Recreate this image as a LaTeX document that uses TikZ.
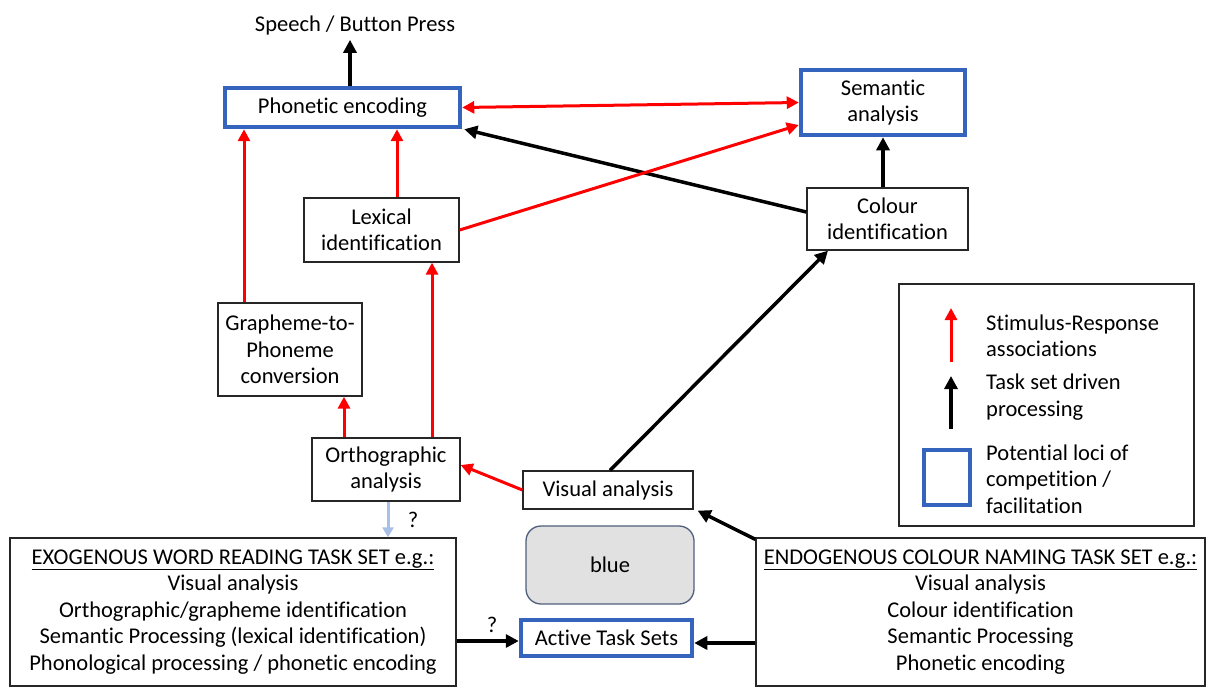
\documentclass[tikz,border=0pt]{standalone}
\usepackage{fontspec}
\setmainfont[Ligatures={NoCommon,NoContextual}]{Carlito}
\usetikzlibrary{arrows.meta,calc}
\definecolor{lociblue}{RGB}{52,100,190}
\definecolor{qblue}{RGB}{168,192,232}
\definecolor{grayfill}{RGB}{225,225,225}
\definecolor{grayedge}{RGB}{80,95,125}
\tikzset{
  box/.style={draw=black!85, line width=1.3pt, fill=white, align=center, inner sep=0pt, font=\fontsize{22.5}{26.5}\selectfont},
  locibox/.style={box, draw=lociblue, line width=4.5pt},
  redarr/.style={draw=red, line width=3pt, -{Triangle[length=12pt,width=12pt]}},
  blkarr/.style={draw=black, line width=3.5pt, -{Triangle[length=13pt,width=13pt]}},
  txt/.style={align=center, inner sep=0pt, font=\fontsize{22.5}{26.5}\selectfont},
}
\begin{document}
\begin{tikzpicture}[x=1pt,y=-1pt]
\useasboundingbox (0,0) rectangle (1215,698);
% nodes
\node[txt] (speech) at (355,26) {Speech / Button Press};
\node[locibox, minimum width=235pt, minimum height=39pt] (phon) at (342.5,107.5) {Phonetic encoding};
\node[locibox, minimum width=164pt, minimum height=65pt] (sem) at (883,102.5) {Semantic\\analysis};
\node[box, minimum width=161pt, minimum height=62pt] (col) at (887.5,219) {Colour\\identification};
\node[box, minimum width=155pt, minimum height=64pt] (lex) at (381.5,230) {Lexical\\identification};
\node[box, minimum width=144pt, minimum height=93pt] (g2p) at (290,349.5) {Grapheme-to-\\Phoneme\\conversion};
\node[box, minimum width=148pt, minimum height=63pt] (orth) at (386,469.5) {Orthographic\\analysis};
\node[box, minimum width=170pt, minimum height=38pt] (vis) at (608,490) {Visual analysis};
\node[box, draw=grayedge, fill=grayfill, rounded corners=15pt, minimum width=168pt, minimum height=78pt] (blue) at (610,565) {blue};
\node[locibox, minimum width=171pt, minimum height=36pt] (active) at (606.5,638) {Active Task Sets};
\node[box, minimum width=446pt, minimum height=148pt] (exo) at (233,612) {\underline{EXOGENOUS WORD READING TASK SET e.g.:}\\Visual analysis\\Orthographic/grapheme identification\\Semantic Processing (lexical identification)\\Phonological processing / phonetic encoding};
\node[box, minimum width=449pt, minimum height=148pt] (endo) at (980.5,612) {\underline{ENDOGENOUS COLOUR NAMING TASK SET e.g.:}\\Visual analysis\\Colour identification\\Semantic Processing\\Phonetic encoding};
% legend
\node[box, minimum width=295pt, minimum height=242pt] (legend) at (1046.5,405) {};
\coordinate (l1a) at (951,362); \coordinate (l1b) at (951,308);
\coordinate (l2a) at (951,429); \coordinate (l2b) at (951,376);
\draw[redarr] (l1a) -- (l1b);
\draw[blkarr] (l2a) -- (l2b);
\node[draw=lociblue, line width=4.5pt, minimum width=46pt, minimum height=55pt, inner sep=0pt] (lsq) at (947,477.5) {};
\node[txt, align=left, anchor=west] (lt1) at (986,336) {Stimulus-Response\\associations};
\node[txt, align=left, anchor=west] (lt2) at (986,397) {Task set driven\\processing};
\node[txt, align=left, anchor=west] (lt3) at (986,479) {Potential loci of\\competition /\\facilitation};
% connectors
\draw[blkarr] ([xshift=7.5pt]phon.north) -- ([xshift=7.5pt,yshift=-4pt]phon.north |- speech.south) ;
\draw[draw=red, line width=3pt, {Triangle[length=12pt,width=12pt]}-{Triangle[length=12pt,width=12pt]}] (phon.east) -- (sem.west);
\draw[blkarr] ([yshift=7pt]col.west) -- ([xshift=2pt]phon.south east);
\draw[blkarr] (col.north -| sem.south) -- (sem.south);
\draw[redarr] ([xshift=15.5pt]lex.north) -- ([xshift=15.5pt]lex.north |- phon.south);
\draw[redarr] (lex.east) -- ([yshift=-22.5pt]sem.west);
\draw[redarr] ([xshift=-46pt]g2p.north) -- ([xshift=-46pt]g2p.north |- phon.south);
\draw[redarr] ([xshift=-42pt]orth.north) -- ([xshift=-42pt]orth.north |- g2p.south);
\draw[redarr] ([xshift=46pt]orth.north) -- ([xshift=46pt]orth.north |- lex.south);
\draw[redarr] (vis.west) -- ([yshift=4.5pt]orth.east);
\draw[blkarr] ([xshift=2pt]vis.north) -- ([xshift=-59.5pt]col.south);
\draw[draw=qblue, line width=3pt, -{Triangle[length=10pt,width=11pt]}] ([xshift=2pt]orth.south) -- ([xshift=2pt]orth.south |- exo.north);
\node[txt] (q1) at (413,520) {?};
\draw[blkarr] (exo.east |- 0,641) -- (active.west |- 0,641);
\node[txt] (q2) at (492,625) {?};
\draw[blkarr] (endo.west |- 0,643) -- (active.east |- 0,643);
\draw[blkarr] ([yshift=-2pt]endo.north west) -- ([xshift=4pt,yshift=-1pt]vis.south east);
\end{tikzpicture}
\end{document}
